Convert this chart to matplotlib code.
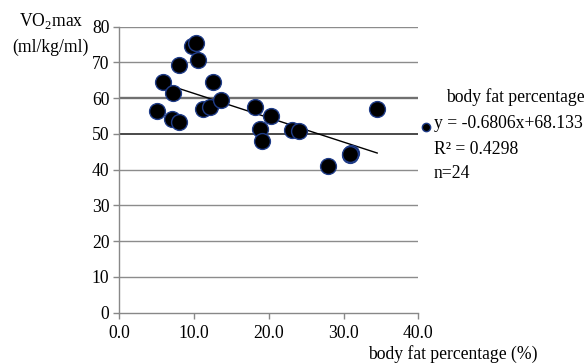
import numpy as np
import matplotlib
matplotlib.use('Agg')
import matplotlib.pyplot as plt
from matplotlib.lines import Line2D

plt.rcParams['font.family'] = ['Liberation Serif', 'DejaVu Serif']
plt.rcParams['mathtext.fontset'] = 'custom'
plt.rcParams['mathtext.rm'] = 'Liberation Serif'

# body fat percentage (%) and VO2max
body_fat = [5.1, 5.8, 7.2, 7.1, 8.0, 8.0, 9.7, 10.3, 10.5, 11.2, 12.1, 12.5,
            13.6, 18.1, 20.3, 18.8, 19.1, 23.1, 24.1, 27.9, 30.8, 31.0, 30.9, 34.5]
vo2max = [56.4, 64.4, 61.5, 54.1, 53.2, 69.4, 74.6, 75.3, 70.7, 56.9, 57.4, 64.4,
          59.6, 57.5, 54.9, 51.3, 48.1, 51.1, 50.9, 41.1, 44.0, 44.7, 44.3, 57.0]

# linear trend from the label
slope = -0.6806
intercept = 68.133
r_squared = 0.4298

xticks = [0, 10, 20, 30, 40]
yticks = [0, 10, 20, 30, 40, 50, 60, 70, 80]

fs = 12.7

fig = plt.figure(figsize=(5.84, 3.63), dpi=100)
ax = fig.add_axes([119.3 / 584, 1 - 312.6 / 363, (418.3 - 119.3) / 584, (312.6 - 26.7) / 363])

# horizontal grid, 50 and 60 drawn heavier as in the original
for yv in yticks[1:]:
    if yv == 50:
        ax.axhline(yv, color='#3a3a3a', lw=1.3, zorder=1)
    elif yv == 60:
        ax.axhline(yv, color='#707070', lw=1.7, zorder=1)
    else:
        ax.axhline(yv, color='#8c8c8c', lw=1.0, zorder=1)

x = np.array(body_fat)
y = np.array(vo2max)
xs = np.array([x.min(), x.max()])
ax.plot(xs, slope * xs + intercept, color='black', lw=1.0, zorder=2)
ax.scatter(x, y, s=130, c='black', edgecolors='#1f3c88', linewidths=1.0, zorder=3)

ax.set_xlim(0, 40)
ax.set_ylim(0, 80)
ax.set_xticks(xticks)
ax.set_xticklabels(['%.1f' % t for t in xticks])
ax.set_yticks(yticks)
ax.tick_params(axis='both', labelsize=fs, color='#888888', length=4, width=1)
ax.tick_params(axis='y', pad=3)
ax.tick_params(axis='x', pad=5)
for side in ['top', 'right']:
    ax.spines[side].set_visible(False)
for side in ['left', 'bottom']:
    ax.spines[side].set_color('#888888')
    ax.spines[side].set_linewidth(1.0)

# axis titles
fig.text(51 / 584, 1 - 21 / 363, r'VO$_2$max', ha='center', va='center', fontsize=fs)
fig.text(50 / 584, 1 - 47 / 363, '(ml/kg/ml)', ha='center', va='center', fontsize=fs)
fig.text(368 / 584, 1 - 359 / 363, 'body fat percentage (%)', ha='left', va='baseline', fontsize=fs)

# legend / fit info
fig.add_artist(Line2D([425.7 / 584], [1 - 127.3 / 363], marker='o', color='black',
                      markersize=6, markeredgecolor='#1f3c88', transform=fig.transFigure))
fig.text(445.7 / 584, 1 - 97 / 363, 'body fat percentage', ha='left', va='center', fontsize=fs)
fig.text(434 / 584, 1 - 123 / 363, 'y = %.4fx+%.3f' % (slope, intercept), ha='left', va='center', fontsize=fs)
fig.text(434 / 584, 1 - 149 / 363, 'R\u00b2 = %.4f' % r_squared, ha='left', va='center', fontsize=fs)
fig.text(434 / 584, 1 - 174 / 363, 'n=%d' % len(body_fat), ha='left', va='center', fontsize=fs)

fig.savefig('out.png', dpi=100)
